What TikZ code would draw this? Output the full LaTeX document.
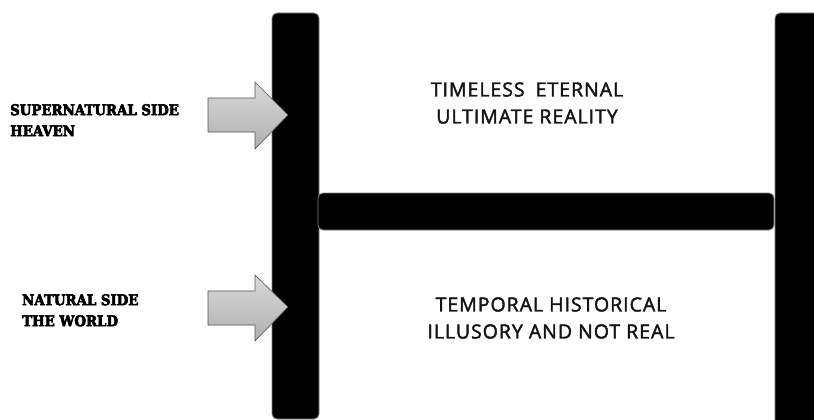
\documentclass[tikz,border=0pt]{standalone}
\usepackage{fontspec}
\setmainfont{DejaVu Serif}
\newfontfamily\slabfont{DejaVu Serif}[FakeStretch=0.9,BoldFeatures={FakeBold=4}]
\newfontfamily\labelsans{Open Sans}[FakeBold=2,LetterSpace=5]
\usetikzlibrary{shadings}
\definecolor{txtdark}{HTML}{141414}
\tikzset{
  barbox/.style={fill=black, draw=black!50, line width=0.8pt, rounded corners=5pt},
  bigarrow/.style={top color=gray!30, bottom color=gray!62, draw=gray!65!black, line width=0.6pt},
  sidelabel/.style={font=\slabfont\bfseries\fontsize{14.8}{21}\selectfont, align=left, anchor=north west, inner sep=0pt, text=black},
  centerlabel/.style={font=\labelsans\fontsize{19.5}{27}\selectfont, align=center, text=txtdark, inner sep=0pt}
}
\begin{document}
\begin{tikzpicture}[x=1pt,y=-1pt]
\useasboundingbox (0,0) rectangle (814,420);
\clip (0,0) rectangle (814,420);
% bars
\path[barbox] (272,13) rectangle (319,419);
\path[barbox] (775,13) rectangle (840,440);
\path[barbox] (318,193) rectangle (774,230);
% arrows
\path[bigarrow] (208,98) -- (255,98) -- (255,82) -- (288,115) -- (255,149) -- (255,132) -- (208,132) -- cycle;
\path[bigarrow] (208,291) -- (255,291) -- (255,275) -- (288,307) -- (255,341) -- (255,325) -- (208,325) -- cycle;
% side labels
\node[sidelabel] (super) at (10,104) {SUPERNATURAL SIDE\\HEAVEN};
\node[sidelabel] (natural) at (22,294) {NATURAL SIDE\\THE WORLD};
% center labels
\node[centerlabel] (upper) at (527,103) {TIMELESS\hspace{11pt}ETERNAL\\ULTIMATE REALITY};
\node[centerlabel] (lower) at (551,318) {TEMPORAL HISTORICAL\\ILLUSORY AND NOT REAL};
\end{tikzpicture}
\end{document}
